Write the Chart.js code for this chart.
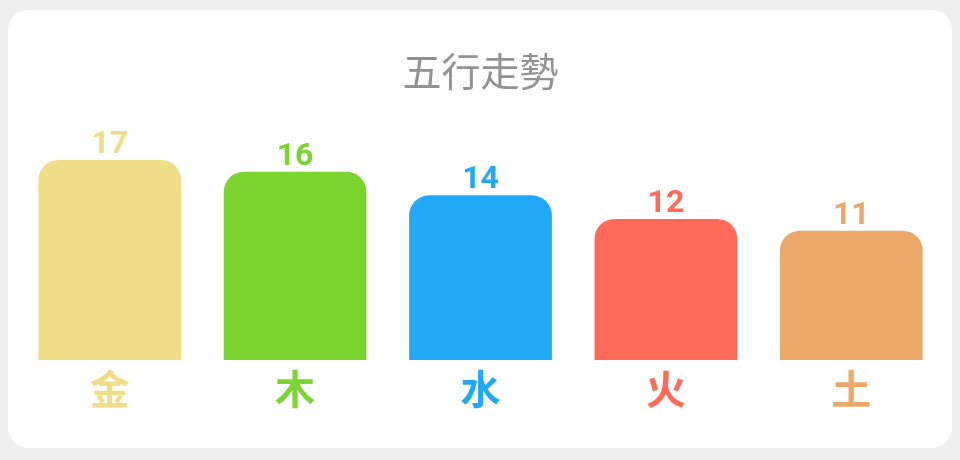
<!DOCTYPE html>
<html>
<head>
<meta charset="utf-8">
<script src="https://cdn.jsdelivr.net/npm/chart.js@4/dist/chart.umd.min.js"></script>
<style>
  html, body { margin: 0; padding: 0; background: #efefef; }
  body { width: 960px; height: 460px; position: relative; overflow: hidden; }
  .card {
    position: absolute; left: 8px; top: 10px; width: 944px; height: 438px;
    background: #fff; border-radius: 20px; overflow: hidden;
  }
  .card canvas { display: block; width: 944px; height: 438px; }
</style>
</head>
<body>
<div class="card"><canvas id="wuxing" width="944" height="438"></canvas></div>
<script>
const elements = ['金', '木', '水', '火', '土'];
const counts = [17, 16, 14, 12, 11];
const colors = ['#f0dd87', '#7bd430', '#21a9f7', '#ff6b58', '#eba869'];

const FONT = "Roboto, 'Noto Sans CJK TC', sans-serif";

// numbers above each bar, same colour as the bar
const valueLabels = {
    id: 'valueLabels',
    afterDatasetsDraw(chart) {
        const ctx = chart.ctx;
        const meta = chart.getDatasetMeta(0);
        ctx.save();
        ctx.font = 'bold 32px ' + FONT;
        ctx.textAlign = 'center';
        ctx.textBaseline = 'alphabetic';
        meta.data.forEach((bar, i) => {
            ctx.fillStyle = colors[i];
            ctx.fillText(counts[i], bar.x, bar.y - 7);
        });
        ctx.restore();
    }
};

const chart = new Chart(document.getElementById('wuxing'), {
    type: 'bar',
    data: {
        labels: elements,
        datasets: [{
            data: counts,
            backgroundColor: colors,
            borderRadius: { topLeft: 20, topRight: 20 },
            borderSkipped: 'bottom',
            categoryPercentage: 1,
            barPercentage: 0.77
        }]
    },
    options: {
        responsive: false,
        animation: false,
        devicePixelRatio: 1,
        layout: { padding: { top: 0, left: 9, right: 8, bottom: 20 } },
        plugins: {
            legend: { display: false },
            tooltip: { enabled: false },
            title: {
                display: true,
                text: '五行走勢',
                color: '#929292',
                font: { family: FONT, size: 39, weight: 'normal' },
                padding: { top: 43, bottom: 25 }
            }
        },
        scales: {
            x: {
                grid: { display: false, drawTicks: false },
                border: { display: false },
                ticks: {
                    padding: 10,
                    font: { family: FONT, size: 40, weight: 'bold' },
                    color: colors
                }
            },
            y: {
                display: false,
                min: 0,
                max: 20
            }
        }
    },
    plugins: [valueLabels]
});
</script>
</body>
</html>
